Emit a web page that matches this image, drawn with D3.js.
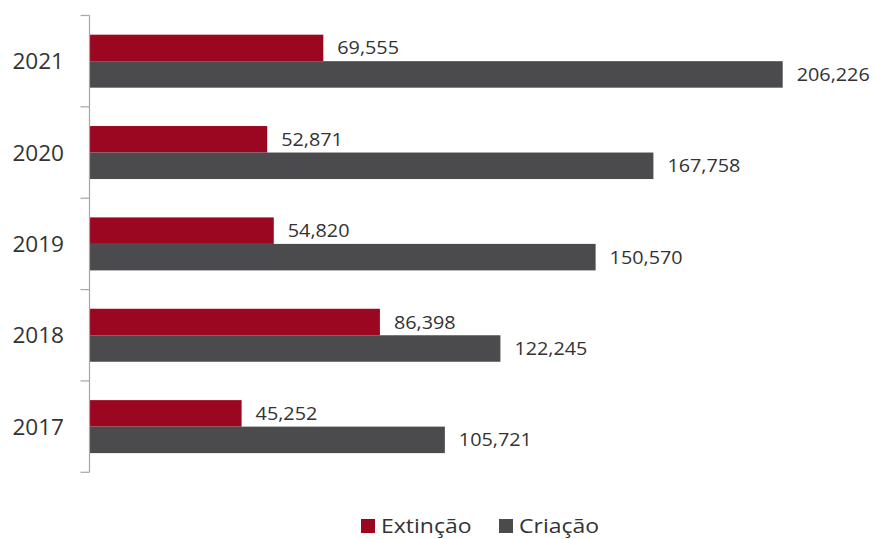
<!DOCTYPE html>
<html><head><meta charset="utf-8">
<script src="https://cdn.jsdelivr.net/npm/d3@7"></script>
<style>html,body{margin:0;padding:0;background:#fff;}</style>
</head><body>
<script>
const years = ["2021","2020","2019","2018","2017"];
const series = ["Extinção","Criação"];
const extincao = [69555, 52871, 54820, 86398, 45252];
const criacao = [206226, 167758, 150570, 122245, 105721];
const colors = ["#9b0720","#4b4b4d"];

const W = 874, H = 539;
const svg = d3.select("body").append("svg").attr("width", W).attr("height", H)
  .style("font-family", "'Open Sans', sans-serif");

const x = d3.scaleLinear().domain([0, 220000]).range([89.5, 89.5 + 693.2*220000/206226]);
const y0 = d3.scaleBand().domain(years).range([15.5, 472.3]).padding(0);
const y1 = d3.scaleBand().domain(series).range([0, y0.bandwidth()]).paddingInner(0).paddingOuter(0.724);
const txt = "#333333";
const fmt = d3.format(",");

const data = years.map((yr, i) => ({year: yr, vals: [extincao[i], criacao[i]]}));

const g = svg.append("g").selectAll("g").data(data).join("g")
  .attr("transform", d => `translate(0,${y0(d.year)})`);

g.selectAll("rect").data(d => d.vals.map((v, j) => ({v, s: series[j], j})))
  .join("rect")
  .attr("x", x(0)).attr("y", d => y1(d.s))
  .attr("width", d => x(d.v) - x(0)).attr("height", y1.bandwidth())
  .attr("fill", d => colors[d.j]);

g.selectAll("text.val").data(d => d.vals.map((v, j) => ({v, s: series[j], j})))
  .join("text").attr("class","val")
  .attr("transform", d => `translate(${x(d.v) + 14},${y1(d.s) + y1.bandwidth()/2 + 6.5}) scale(1.1,1)`)
  .attr("font-size", 18).attr("fill", txt)
  .text(d => fmt(d.v));

// axis
const ax = svg.append("g").attr("stroke", "#a6a6a6").attr("stroke-width", 1.2);
ax.append("line").attr("x1", x(0)).attr("x2", x(0)).attr("y1", y0.range()[0]).attr("y2", y0.range()[1]);
const bounds = years.map(yr => y0(yr)).concat([y0.range()[1]]);
ax.selectAll("line.t").data(bounds).join("line").attr("class","t")
  .attr("x1", x(0) - 9).attr("x2", x(0)).attr("y1", d => d).attr("y2", d => d);

svg.append("g").selectAll("text").data(years).join("text")
  .attr("transform", d => `translate(64,${y0(d) + y0.bandwidth()/2 + 8}) scale(1.05,1)`)
  .attr("text-anchor", "end").attr("font-size", 21.5).attr("fill", txt)
  .text(d => d);

// legend
const legX = [361, 499];
const leg = svg.append("g").selectAll("g").data(series).join("g")
  .attr("transform", (d, i) => `translate(${legX[i]},519)`);
leg.append("rect").attr("width", 14).attr("height", 14).attr("fill", (d, i) => colors[i]);
leg.append("text").attr("transform", "translate(20,14) scale(1.15,1)")
  .attr("font-size", 20).attr("fill", txt).text(d => d);
</script>
</body></html>
